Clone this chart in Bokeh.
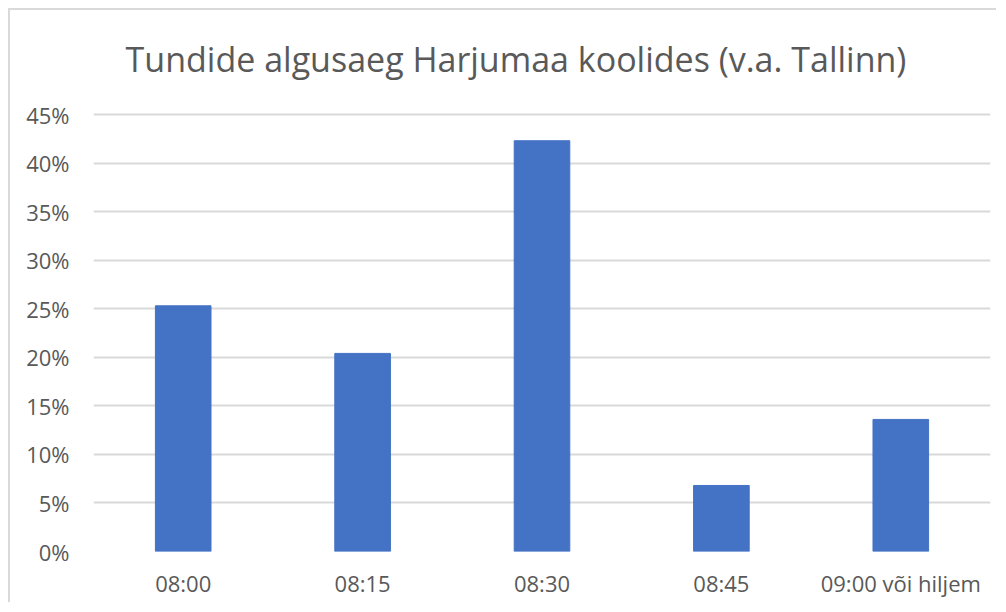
from bokeh.plotting import figure
from bokeh.models import PrintfTickFormatter, FixedTicker, Range1d, Label
from bokeh.embed import file_html
from bokeh.resources import INLINE

title_text = "Tundide algusaeg Harjumaa koolides (v.a. Tallinn)"
categories = ["08:00", "08:15", "08:30", "08:45", "09:00 või hiljem"]
values = [25.3, 20.4, 42.3, 6.8, 13.6]
y_ticks = [0, 5, 10, 15, 20, 25, 30, 35, 40, 45]

FONT = "Open Sans"
TXT = "#595959"

PX_PER_UNIT = 437 / 45          # plot height of 45% is 437 px
Y_TOP = 45 + 104 / PX_PER_UNIT   # headroom for the title inside the frame

p = figure(x_range=categories, width=988, height=594, output_backend="svg",
           toolbar_location=None, tools="")
p.y_range = Range1d(0, Y_TOP)
p.min_border_left = 83
p.min_border_right = 8
p.min_border_top = 0
p.min_border_bottom = 53
p.outline_line_color = None
p.styles = {"margin-left": "8px", "margin-top": "8px",
            "border-left": "2px solid #d9d9d9", "border-top": "2px solid #d9d9d9"}

p.vbar(x=categories, top=values, width=0.31, color="#4472C4")

p.yaxis.ticker = FixedTicker(ticks=y_ticks)
p.yaxis.formatter = PrintfTickFormatter(format="%d%%")
for ax in (p.xaxis, p.yaxis):
    ax.axis_line_color = None
    ax.major_tick_line_color = None
    ax.minor_tick_line_color = None
    ax.major_tick_out = 0
    ax.major_tick_in = 0
    ax.major_label_text_font = FONT
    ax.major_label_text_color = TXT
    ax.major_label_text_font_size = "22px"
p.yaxis.major_label_standoff = 24
p.xaxis.major_label_standoff = 16

p.xgrid.grid_line_color = None
p.ygrid.grid_line_color = "#d9d9d9"
p.ygrid.grid_line_width = 2

p.add_layout(Label(x=len(categories) / 2, y=45 + 56 / PX_PER_UNIT, x_offset=-26,
                   text=title_text, text_align="center", text_baseline="middle",
                   text_font=FONT, text_font_size="34px", text_color=TXT))

open("out.html", "w").write(file_html(p, INLINE))
